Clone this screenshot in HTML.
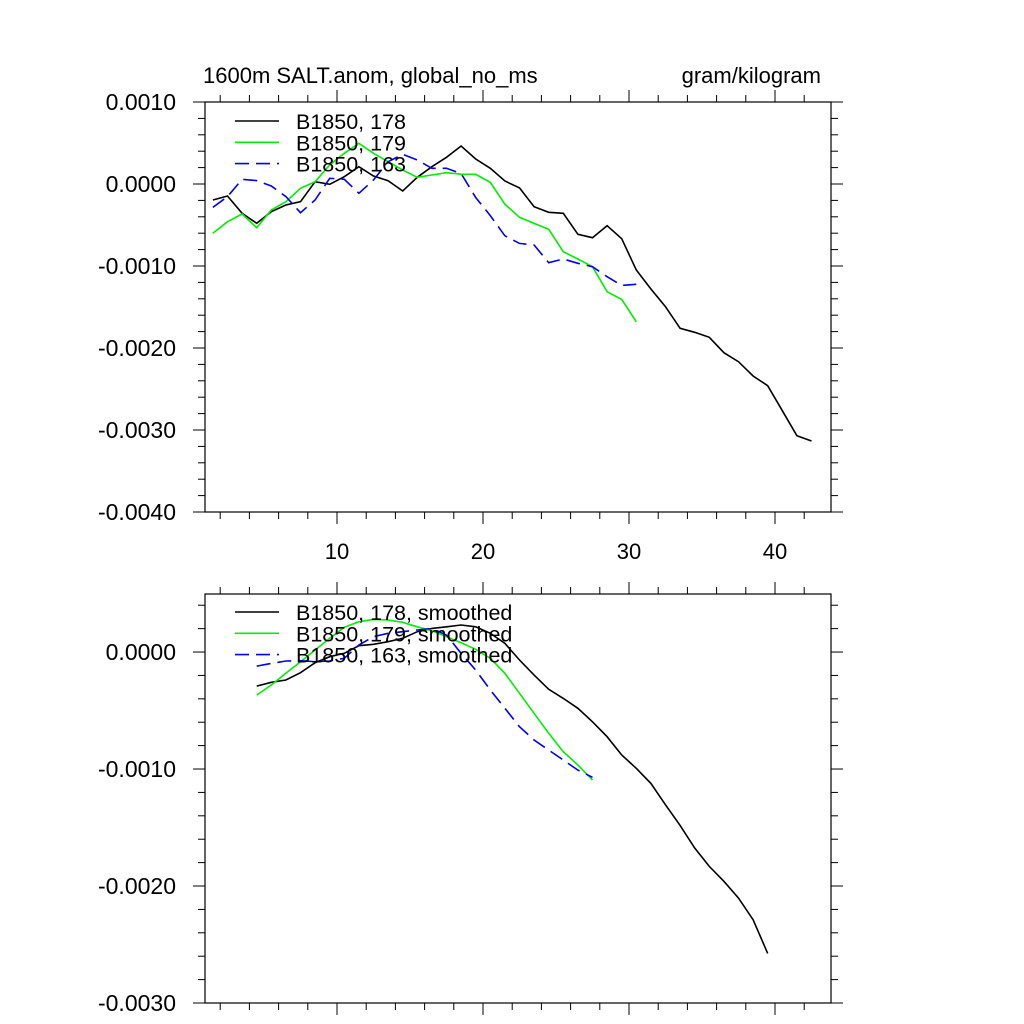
<!DOCTYPE html>
<html><head><meta charset="utf-8"><style>
html,body{margin:0;padding:0;background:#fff;}
svg{display:block;font-family:"Liberation Sans",sans-serif;}
</style></head><body>
<svg id="chart" width="1024" height="1024" viewBox="0 0 1024 1024" xmlns="http://www.w3.org/2000/svg">
<text x="203" y="83" font-size="22">1600m SALT.anom, global_no_ms</text>
<text x="821" y="83" font-size="22" text-anchor="end">gram/kilogram</text>
</svg>
<script>
const xTickLabels=["10","20","30","40"];
const xTickVals=[10,20,30,40];
const topYTicks=[0.001,0,-0.001,-0.002,-0.003,-0.004];
const topYLabels=["0.0010","0.0000","-0.0010","-0.0020","-0.0030","-0.0040"];
const botYTicks=[0,-0.001,-0.002,-0.003];
const botYLabels=["0.0000","-0.0010","-0.0020","-0.0030"];
const seriesNames=["B1850, 178","B1850, 179","B1850, 163"];
const smoothNames=["B1850, 178, smoothed","B1850, 179, smoothed","B1850, 163, smoothed"];
const rawStart=1.5;
const raw178=[-0.195,-0.146,-0.357,-0.479,-0.338,-0.256,-0.216,0.028,-0.004,0.089,0.211,0.098,0.040,-0.085,0.082,0.211,0.326,0.463,0.305,0.191,0.037,-0.048,-0.277,-0.345,-0.357,-0.613,-0.655,-0.509,-0.667,-1.049,-1.28,-1.496,-1.76,-1.809,-1.87,-2.057,-2.167,-2.341,-2.46,-2.765,-3.07,-3.134];
const raw179=[-0.601,-0.46,-0.366,-0.533,-0.317,-0.216,-0.052,0.028,0.232,0.374,0.496,0.374,0.272,0.171,0.082,0.110,0.138,0.120,0.118,0.02,-0.246,-0.406,-0.48,-0.553,-0.825,-0.915,-1.008,-1.313,-1.407,-1.68];
const raw163=[-0.285,-0.154,0.057,0.041,-0.024,-0.154,-0.35,-0.195,0.069,0.057,-0.114,0.049,0.272,0.362,0.293,0.191,0.191,0.128,-0.165,-0.385,-0.632,-0.724,-0.744,-0.96,-0.915,-0.967,-1.008,-1.13,-1.236,-1.223];
const smStart=4.5;
const sm178=[-0.291,-0.259,-0.239,-0.177,-0.091,-0.040,-0.011,0.054,0.066,0.088,0.117,0.174,0.202,0.216,0.231,0.216,0.160,0.074,-0.068,-0.197,-0.319,-0.396,-0.481,-0.596,-0.724,-0.88,-0.994,-1.123,-1.306,-1.482,-1.675,-1.832,-1.96,-2.103,-2.288,-2.576];
const sm179=[-0.368,-0.282,-0.182,-0.083,0.017,0.117,0.211,0.259,0.279,0.274,0.254,0.216,0.182,0.131,0.080,0.023,-0.054,-0.182,-0.353,-0.524,-0.695,-0.852,-0.966,-1.094];
const sm163=[-0.120,-0.097,-0.077,-0.074,-0.083,-0.077,-0.054,0.060,0.131,0.160,0.174,0.188,0.202,0.145,-0.011,-0.154,-0.325,-0.481,-0.638,-0.752,-0.838,-0.923,-1.009,-1.071];

const NS="http://www.w3.org/2000/svg";
const svg=document.getElementById('chart');
function mk(tag,attrs,parent){const e=document.createElementNS(NS,tag);for(const k in attrs)e.setAttribute(k,attrs[k]);(parent||svg).appendChild(e);return e;}
const X0=205,X1=831;
function xs(x){return 337+(x-10)*14.6;}
const colors=["#000","#00ee00","#0000ee"];
const dashes=["","","14,7"];

function panel(top,bottom,yTop,yBot,yTicks,yLabels,showXLabels,series,names,legY,name){
  const g=mk('g',{});
  
  
  const ys=v=>top+(yTop-v)/(yTop-yBot)*(bottom-top);
  const frame=mk('rect',{x:X0,y:top,width:X1-X0,height:bottom-top,fill:'none',stroke:'#000','stroke-width':1.2},g);
  
  
  for(let x=2;x<=43;x++){
    const px=xs(x); if(px<X0||px>X1)continue;
    if(x%2)continue;
    const major=x%10===0;const L=major?12:7;
    mk('line',{x1:px,x2:px,y1:top,y2:top-L,stroke:'#000','stroke-width':1},g);
    mk('line',{x1:px,x2:px,y1:bottom,y2:bottom+L,stroke:'#000','stroke-width':1},g);
  }
  if(showXLabels){
    xTickVals.forEach((v,i)=>{const t=mk('text',{x:xs(v),y:bottom+47,'font-size':22,'text-anchor':'middle'},g);t.textContent=xTickLabels[i];
      
      });
  }
  const step=0.0002;
  for(let k=Math.ceil(yBot/step-1e-6);k*step<=yTop+1e-9;k++){
    const v=k*step;const py=ys(v);const major=k%5===0;const L=major?12:7;
    mk('line',{x1:X0,x2:X0-L,y1:py,y2:py,stroke:'#000','stroke-width':1},g);
    mk('line',{x1:X1,x2:X1+L,y1:py,y2:py,stroke:'#000','stroke-width':1},g);
  }
  yTicks.forEach((v,i)=>{const t=mk('text',{x:176,y:ys(v)+8,'font-size':23,'text-anchor':'end'},g);t.textContent=yLabels[i];
    
    });
  series.forEach((s,si)=>{
    const pts=s.data.map((v,i)=>xs(s.start+i).toFixed(1)+','+ys(v*0.001).toFixed(1)).join(' ');
    const p=mk('polyline',{points:pts,fill:'none',stroke:colors[si],'stroke-width':1.6,'stroke-dasharray':dashes[si]},g);
    
    
  });
  names.forEach((n,i)=>{
    const y=legY+i*21.3;
    const l=mk('line',{x1:235,x2:279,y1:y,y2:y,stroke:colors[i],'stroke-width':1.6,'stroke-dasharray':dashes[i]},g);
    
    
    const t=mk('text',{x:296,y:y+8,'font-size':21.5},g);t.textContent=n;
    
    
  });
}
panel(102,512,0.001,-0.004,topYTicks,topYLabels,true,
  [{start:rawStart,data:raw178},{start:rawStart,data:raw179},{start:rawStart,data:raw163}],seriesNames,121,'raw-panel');
panel(594,1003,0.000496,-0.003,botYTicks,botYLabels,false,
  [{start:smStart,data:sm178},{start:smStart,data:sm179},{start:smStart,data:sm163}],smoothNames,612,'smoothed-panel');
</script>
</body></html>
